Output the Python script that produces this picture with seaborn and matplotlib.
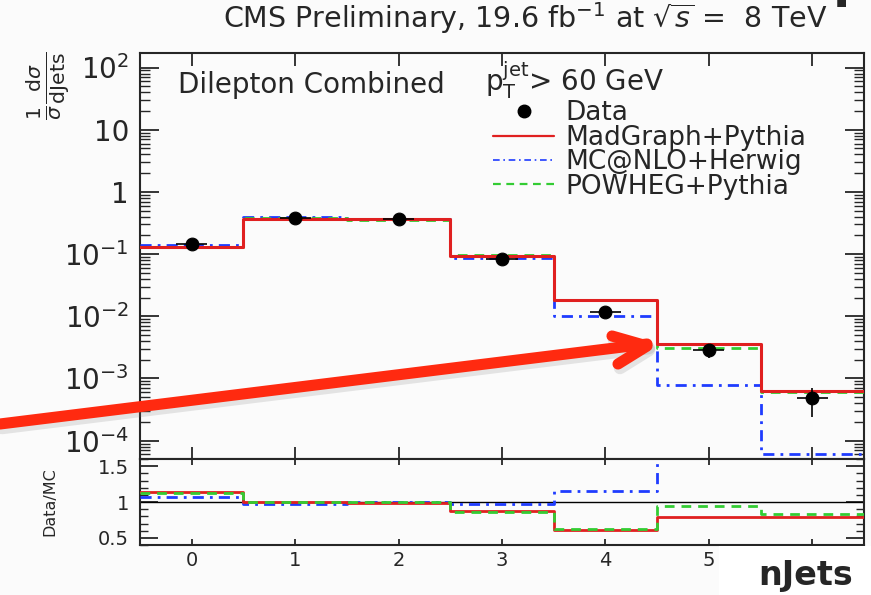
import numpy as np
import pandas as pd
import matplotlib
matplotlib.use('Agg')
import matplotlib.pyplot as plt
import seaborn as sns
from matplotlib.lines import Line2D
from matplotlib.patches import Rectangle
import matplotlib.ticker as mticker

# ---------------- data ----------------
njets = [0, 1, 2, 3, 4, 5, 6]
xtick_labels = ['0', '1', '2', '3', '4', '5', '']
data_vals = [0.147, 0.38, 0.363, 0.082, 0.0116, 0.0029, 0.00049]
data_err_up = [0.008, 0.012, 0.012, 0.004, 0.0010, 0.0007, 0.00022]
data_err_dn = [0.008, 0.012, 0.012, 0.004, 0.0010, 0.0008, 0.00025]
madgraph = [0.129, 0.372, 0.363, 0.093, 0.0186, 0.00355, 0.000626]
mcatnlo = [0.138, 0.392, 0.362, 0.086, 0.0102, 0.00078, 0.000062]
powheg = [0.131, 0.385, 0.352, 0.095, 0.0183, 0.00313, 0.000603]
ratio_madgraph = [1.14, 1.005, 0.99, 0.876, 0.61, 0.795, 0.786]
ratio_mcatnlo = [1.075, 0.975, 1.0, 0.967, 1.147, 3.7, 7.9]
ratio_powheg = [1.12, 1.0, 1.0, 0.857, 0.628, 0.94, 0.838]
main_ytick_vals = [1e-4, 1e-3, 1e-2, 1e-1, 1, 10, 100]
main_ytick_labels = ['$10^{-4}$', '$10^{-3}$', '$10^{-2}$', '$10^{-1}$', '1', '10', '$10^{2}$']
ratio_ytick_vals = [0.5, 1.0, 1.5]
ratio_ytick_labels = ['0.5', '1', '1.5']

RED = '#e02020'
BLUE = '#1f3cff'
GREEN = '#33cc33'

sns.set_style('ticks')
plt.rcParams['font.family'] = ['DejaVu Sans']
plt.rcParams['axes.linewidth'] = 1.5

W, H = 871, 595
fig = plt.figure(figsize=(W / 100, H / 100), dpi=100, facecolor='#fbfbfb')

def fx(px):
    return px / W

def fy(py):
    return 1 - py / H

L, R = 140, 864
ax = fig.add_axes([fx(L), fy(459), fx(R) - fx(L), fy(52.5) - fy(459)])
ax2 = fig.add_axes([fx(L), fy(545), fx(R) - fx(L), fy(459) - fy(545)])
for a in (ax, ax2):
    a.set_facecolor('#fbfbfb')

edges = [-0.5, 0.5, 1.5, 2.5, 3.5, 4.5, 5.5, 6.5]
dashdot = (0, (4, 2.2, 1, 2.2))
dashed = (0, (3.5, 2.5))

def step(a, vals, color, ls, lw, z):
    df = pd.DataFrame({'njets': njets, 'w': vals})
    sns.histplot(data=df, x='njets', weights='w', bins=edges, element='step', fill=False,
                 color=color, linestyle=ls, linewidth=lw, ax=a, zorder=z)

# main panel
step(ax, mcatnlo, BLUE, dashdot, 2.0, 3)
step(ax, powheg, GREEN, dashed, 2.0, 3.5)
step(ax, madgraph, RED, '-', 2.2, 4)
ax.errorbar(njets, data_vals, yerr=[data_err_dn, data_err_up], xerr=0.15,
            fmt='none', ecolor='black', elinewidth=1.2, zorder=5)
sns.scatterplot(x=njets, y=data_vals, color='black', s=85, edgecolor='black',
                ax=ax, zorder=6, legend=False)
ax.set_yscale('log')
ax.set_xlim(-0.5, 6.5)
ax.set_ylim(10 ** -4.295, 10 ** 2.242)
ax.set_yticks(main_ytick_vals)
ax.set_yticklabels(main_ytick_labels)
ax.set_xticks(njets)
ax.set_xticklabels([])
ax.xaxis.set_minor_locator(mticker.NullLocator())
ax.yaxis.set_minor_locator(mticker.LogLocator(base=10, subs=np.arange(2, 10), numticks=20))
ax.yaxis.set_minor_formatter(mticker.NullFormatter())
ax.tick_params(axis='y', which='major', direction='in', length=14, width=1.3,
               left=True, right=True, labelsize=20, pad=8)
ax.tick_params(axis='y', which='minor', direction='in', length=7, width=1.0,
               left=True, right=True)
ax.tick_params(axis='x', which='major', direction='in', length=9, width=1.3,
               top=True, bottom=True)
ax.set_xlabel('')
ax.set_ylabel('')
for s in ax.spines.values():
    s.set_visible(True)
    s.set_linewidth(1.5)

ax.text(0.0525, 0.900, 'Dilepton Combined', transform=ax.transAxes,
        fontsize=20, ha='left', va='baseline')
ax.text(0.477, 0.906, r'$\mathrm{p}_{\mathrm{T}}^{\mathrm{jet}}$> 60 GeV', transform=ax.transAxes,
        fontsize=20, ha='left', va='baseline')

handles = [Line2D([], [], marker='o', color='black', ls='none', markersize=9),
           Line2D([], [], color=RED, ls='-', lw=1.6),
           Line2D([], [], color=BLUE, ls=dashdot, lw=1.2),
           Line2D([], [], color=GREEN, ls=dashed, lw=1.6)]
labels = ['Data', 'MadGraph+Pythia', 'MC@NLO+Herwig', 'POWHEG+Pythia']
ax.legend(handles, labels, loc='upper left', bbox_to_anchor=(0.488, 0.882),
          frameon=False, fontsize=19, handlelength=2.3, handletextpad=0.42,
          labelspacing=-0.06, borderaxespad=0, borderpad=0)

# ratio panel
step(ax2, ratio_mcatnlo, BLUE, dashdot, 2.0, 3)
step(ax2, ratio_madgraph, RED, '-', 2.0, 3.5)
step(ax2, ratio_powheg, GREEN, dashed, 2.0, 4)
ax2.axhline(1.0, color='black', lw=1.0, zorder=2)
ax2.set_xlim(-0.5, 6.5)
ax2.set_ylim(0.4, 1.6)
ax2.set_xticks(njets)
ax2.set_xticklabels(xtick_labels)
ax2.set_yticks(ratio_ytick_vals)
ax2.set_yticklabels(ratio_ytick_labels)
ax2.yaxis.set_minor_locator(mticker.MultipleLocator(0.1))
ax2.xaxis.set_minor_locator(mticker.NullLocator())
ax2.tick_params(axis='y', which='major', direction='in', length=13, width=1.3,
                left=True, right=True, labelsize=14, pad=8)
ax2.tick_params(axis='y', which='minor', direction='in', length=6, width=1.0,
                left=True, right=True)
ax2.tick_params(axis='x', which='major', direction='in', length=4, width=1.3,
                top=True, bottom=True, labelsize=14, pad=4)
ax2.set_xlabel('')
ax2.set_ylabel('')
for s in ax2.spines.values():
    s.set_visible(True)
    s.set_linewidth(1.5)

# axis titles
fig.text(fx(48), fy(51), r'$\frac{1}{\sigma}\frac{\mathrm{d}\sigma}{\mathrm{dJets}}$',
         rotation=90, ha='center', va='top', fontsize=21)
fig.text(fx(50), fy(502), 'Data/MC', rotation=90, ha='center', va='center', fontsize=11.5)

# title
fig.text(fx(827), fy(28), r'CMS Preliminary, 19.6 fb$^{-1}$ at $\sqrt{s}$ =  8 TeV',
         ha='right', va='baseline', fontsize=20.5)

# partial slide-title glyph at top right (mostly above the page)
fig.text(fx(833), fy(-3), 'p', ha='left', va='baseline', fontsize=36, fontweight='bold')

# red annotation arrow (with soft shadow)
shaft = ([0, 647], [424, 344])
head = ([612, 647, 618], [336, 346, 364])
for dx, dy, col, lw, al in [(2, 4, '#777777', 9, 0.18), (0, 0, '#ff2a10', 8, 1.0)]:
    for xs, ys in (shaft, head):
        fig.add_artist(Line2D([fx(x + dx) for x in xs], [fy(y + dy) for y in ys],
                              color=col, lw=lw, alpha=al, solid_capstyle='round',
                              solid_joinstyle='round', zorder=20))

# nJets label box
fig.add_artist(Rectangle((fx(719), 0), 1 - fx(719), fy(546), facecolor='white',
                         edgecolor='none', zorder=25))
fig.text(fx(806), fy(585), 'nJets', ha='center', va='baseline', fontsize=24,
         fontweight='bold', zorder=26)

fig.savefig('out.png', dpi=100, facecolor=fig.get_facecolor())
